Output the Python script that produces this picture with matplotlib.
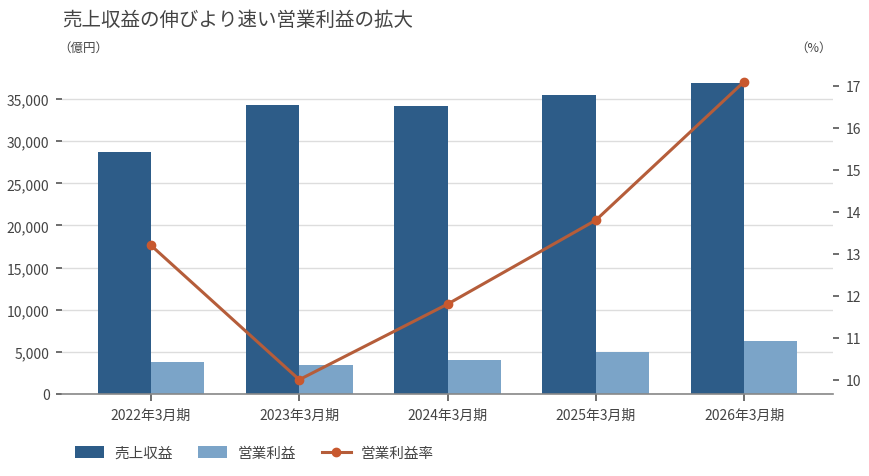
import numpy as np
import matplotlib
matplotlib.use("Agg")
from matplotlib import pyplot as plt
from matplotlib.lines import Line2D
from matplotlib.patches import Patch

plt.rcParams['font.family'] = ['Noto Sans CJK JP', 'DejaVu Sans']

periods = ['2022年3月期', '2023年3月期', '2024年3月期', '2025年3月期', '2026年3月期']
revenue = [28700, 34300, 34200, 35500, 36900]      # 売上収益 (億円)
op_profit = [3800, 3450, 4030, 4950, 6320]         # 営業利益 (億円)
op_margin = [13.2, 10.0, 11.8, 13.8, 17.1]         # 営業利益率 (%)

c_rev = '#2d5c88'
c_op = '#7ba4c8'
c_line = '#b55d3a'
c_mark = '#c8582e'
c_text = '#444444'
c_grid = '#dddddd'

fig = plt.figure(figsize=(8.7, 4.77), dpi=100)
ax = fig.add_axes([0.0713, 0.172, 0.8862, 0.681])
ax2 = ax.twinx()

x = np.arange(len(periods))
w = 0.36
ax.bar(x - w / 2, revenue, w, color=c_rev, linewidth=0, zorder=2)
ax.bar(x + w / 2, op_profit, w, color=c_op, linewidth=0, zorder=2)

ax2.plot(x, op_margin, color=c_line, linewidth=2.2, marker='o', markersize=6,
         markerfacecolor=c_mark, markeredgecolor=c_mark, zorder=3)

ax.set_xlim(-0.6, 4.6)
ax.set_ylim(0, 38560)
ax2.set_ylim(9.66, 17.4)

ax.set_yticks(np.arange(0, 35001, 5000))
ax.set_yticklabels([f'{v:,}' for v in range(0, 35001, 5000)])
ax2.set_yticks(range(10, 18))
ax.set_xticks(x)
ax.set_xticklabels(periods)

ax.yaxis.grid(True, color=c_grid, linewidth=1, zorder=0)
ax.set_axisbelow(True)

for a in (ax, ax2):
    for s in ('top', 'right', 'left', 'bottom'):
        a.spines[s].set_visible(False)
ax.spines['bottom'].set_visible(True)
ax.spines['bottom'].set_color('#888888')
ax.spines['bottom'].set_linewidth(1.2)

ax.tick_params(axis='y', length=4, width=1.2, color='#555555', labelcolor=c_text,
               labelsize=10, pad=5)
ax2.tick_params(axis='y', length=4, width=1.2, color='#555555', labelcolor=c_text,
                labelsize=10, pad=5)
ax.tick_params(axis='x', length=5, width=1.2, color='#555555', labelcolor=c_text,
               labelsize=10, pad=5)

fig.text(62 / 870, 1 - 20 / 477, '売上収益の伸びより速い営業利益の拡大', fontsize=14,
         color=c_text, va='center', ha='left')
fig.text(58 / 870, 1 - 48 / 477, '（億円）', fontsize=9, color=c_text, va='center', ha='left')
fig.text(832 / 870, 1 - 48 / 477, '（%）', fontsize=9, color=c_text, va='center', ha='right')

handles = [
    Patch(facecolor=c_rev, edgecolor='none'),
    Patch(facecolor=c_op, edgecolor='none'),
    Line2D([0], [0], color=c_line, linewidth=2.2, marker='o', markersize=6,
           markerfacecolor=c_mark, markeredgecolor=c_mark),
]
labels = ['売上収益', '営業利益', '営業利益率']
fig.legend(handles, labels, loc='center left', bbox_to_anchor=(69 / 870, 1 - 454 / 477),
           ncol=3, frameon=False, fontsize=10.5, labelcolor=c_text,
           handlelength=2.0, handleheight=0.9, columnspacing=1.75, handletextpad=0.7,
           borderaxespad=0)

fig.savefig('out.png', dpi=100)
